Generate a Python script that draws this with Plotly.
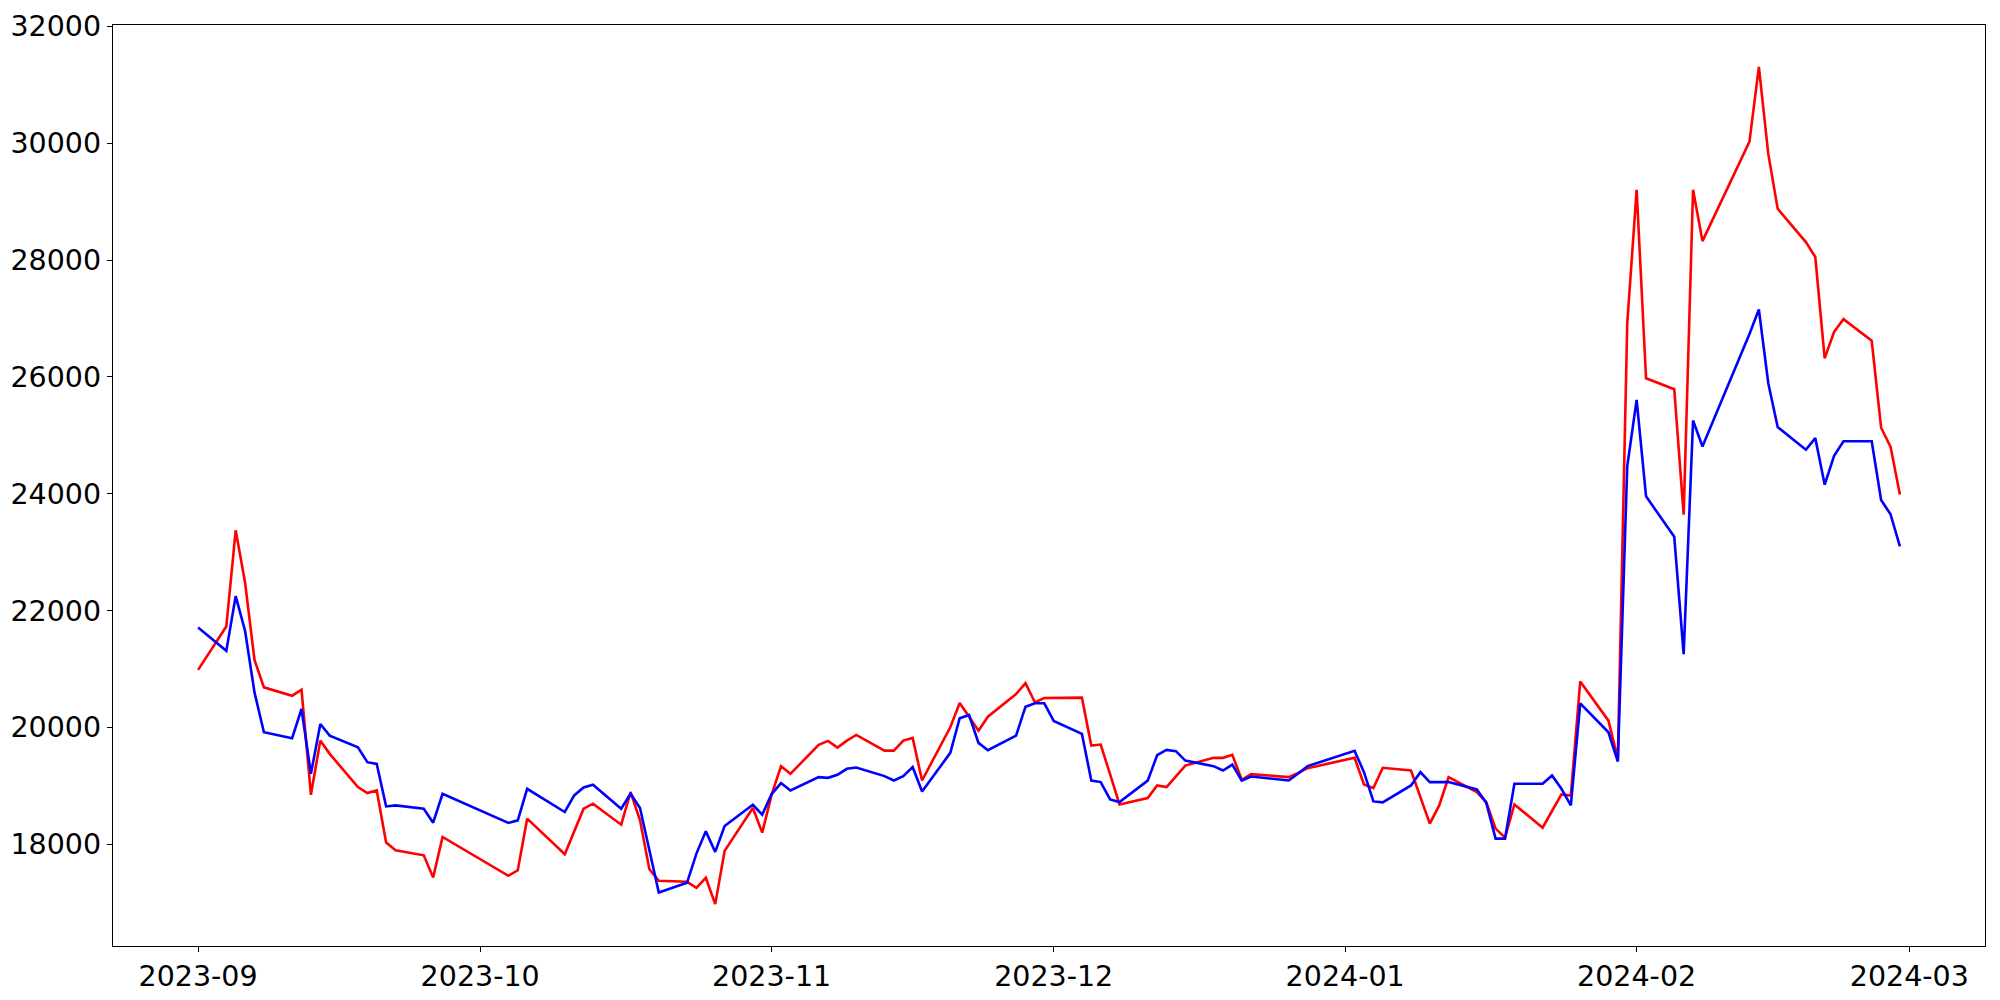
import pandas as pd
import plotly.graph_objects as go

dates = [
    "2023-09-01", "2023-09-04", "2023-09-05", "2023-09-06", "2023-09-07", "2023-09-08",
    "2023-09-11", "2023-09-12", "2023-09-13", "2023-09-14", "2023-09-15",
    "2023-09-18", "2023-09-19", "2023-09-20", "2023-09-21", "2023-09-22",
    "2023-09-25", "2023-09-26", "2023-09-27",
    "2023-10-04", "2023-10-05", "2023-10-06",
    "2023-10-10", "2023-10-11", "2023-10-12", "2023-10-13",
    "2023-10-16", "2023-10-17", "2023-10-18", "2023-10-19", "2023-10-20",
    "2023-10-23", "2023-10-24", "2023-10-25", "2023-10-26", "2023-10-27",
    "2023-10-30", "2023-10-31",
    "2023-11-01", "2023-11-02", "2023-11-03",
    "2023-11-06", "2023-11-07", "2023-11-08", "2023-11-09", "2023-11-10",
    "2023-11-13", "2023-11-14", "2023-11-15", "2023-11-16", "2023-11-17",
    "2023-11-20", "2023-11-21", "2023-11-22", "2023-11-23", "2023-11-24",
    "2023-11-27", "2023-11-28", "2023-11-29", "2023-11-30",
    "2023-12-01",
    "2023-12-04", "2023-12-05", "2023-12-06", "2023-12-07", "2023-12-08",
    "2023-12-11", "2023-12-12", "2023-12-13", "2023-12-14", "2023-12-15",
    "2023-12-18", "2023-12-19", "2023-12-20", "2023-12-21", "2023-12-22",
    "2023-12-26", "2023-12-27", "2023-12-28",
    "2024-01-02", "2024-01-03", "2024-01-04", "2024-01-05",
    "2024-01-08", "2024-01-09", "2024-01-10", "2024-01-11", "2024-01-12",
    "2024-01-15", "2024-01-16", "2024-01-17", "2024-01-18", "2024-01-19",
    "2024-01-22", "2024-01-23", "2024-01-24", "2024-01-25", "2024-01-26",
    "2024-01-29", "2024-01-30", "2024-01-31",
    "2024-02-01", "2024-02-02",
    "2024-02-05", "2024-02-06", "2024-02-07", "2024-02-08",
    "2024-02-13", "2024-02-14", "2024-02-15", "2024-02-16",
    "2024-02-19", "2024-02-20", "2024-02-21", "2024-02-22", "2024-02-23",
    "2024-02-26", "2024-02-27", "2024-02-28", "2024-02-29",
]

red_values = [
    # Sep
    20986, 21727, 23375, 22478, 21157, 20686, 20543, 20645, 18848, 19775, 19548,
    18980, 18877, 18922, 18029, 17898, 17812, 17432, 18126,
    # Oct
    17461, 17556, 18439, 17829, 18222, 18609, 18695, 18336, 18894, 18410, 17573,
    17375, 17358, 17256, 17427, 16976, 17887, 18621, 18200,
    # Nov
    18850, 19338, 19206, 19701, 19770, 19655, 19775, 19872, 19604, 19604, 19775,
    19821, 19092, 20003, 20418, 20184, 19945, 20184, 20572, 20759, 20430, 20503,
    # Dec
    20503, 20510, 19689, 19707, 19195, 18683, 18792, 19007, 18980, 19167, 19348,
    19480, 19480, 19531, 19104, 19201, 19150, 19220, 19304,
    # Jan
    19480, 19024, 18962, 19309, 19263, 18809, 18353, 18666, 19150, 18894, 18724,
    18268, 18114, 18683, 18285, 18570, 18853, 18836, 20788, 20116, 19462, 26915,
    # Feb
    29201, 25976, 25789, 23643, 29201, 28324, 30026, 31306, 29816, 28877, 28307,
    28051, 26317, 26771, 26988, 26618, 25130, 24807, 23985,
]

blue_values = [
    # Sep
    21710, 21311, 22249, 21652, 20600, 19918, 19815, 20316, 19206, 20060, 19860,
    19662, 19406, 19377, 18648, 18666, 18609, 18370, 18865,
    # Oct
    18365, 18410, 18950, 18553, 18836, 18973, 19019, 18609, 18865, 18621, 17898,
    17176, 17341, 17841, 18222, 17870, 18314, 18677, 18507,
    # Nov
    18860, 19048, 18922, 19150, 19138, 19189, 19292, 19314, 19167, 19092, 19167,
    19321, 18904, 19565, 20157, 20213, 19736, 19611, 19860, 20355, 20413, 20413,
    # Dec
    20111, 19889, 19092, 19065, 18768, 18724, 19090, 19525, 19616, 19594, 19433,
    19338, 19263, 19365, 19092, 19160, 19092, 19212, 19338,
    # Jan
    19599, 19235, 18734, 18717, 19007, 19235, 19065, 19065, 19065, 18939, 18712,
    18097, 18097, 19036, 19036, 19177, 18950, 18666, 20413, 19918, 19416, 24468,
    # Feb
    25606, 23956, 23263, 21254, 25253, 24809, 26735, 27154, 25891, 25140, 24753,
    24952, 24155, 24650, 24899, 24899, 23893, 23650, 23101,
]

y_ticks = [18000, 20000, 22000, 24000, 26000, 28000, 30000, 32000]

x = pd.to_datetime(dates)

# matplotlib-style 5% margins
span = x.max() - x.min()
x_range = [x.min() - span * 0.05, x.max() + span * 0.05]
all_vals = red_values + blue_values
vmin, vmax = min(all_vals), max(all_vals)
vspan = vmax - vmin
y_range = [vmin - vspan * 0.05, vmax + vspan * 0.05]

fig = go.Figure()
fig.add_trace(go.Scatter(x=x, y=red_values, mode="lines",
                         line=dict(color="#ff0000", width=2.6), showlegend=False))
fig.add_trace(go.Scatter(x=x, y=blue_values, mode="lines",
                         line=dict(color="#0000ff", width=2.6), showlegend=False))

axis_common = dict(
    showline=True, linecolor="black", linewidth=1.3, mirror=True,
    ticks="outside", ticklen=5, tickwidth=1.3, tickcolor="black",
    showgrid=False, zeroline=False, automargin=False,
    ticklabelstandoff=0,
    tickfont=dict(family="DejaVu Sans", size=28.5, color="black"),
)

# the page body adds an 8px offset; size the figure so the axes land where
# they are in the reference
fig.update_layout(
    width=1992, height=992,
    margin=dict(l=105, r=15, t=17, b=54),
    paper_bgcolor="white", plot_bgcolor="white",
    font=dict(family="DejaVu Sans", color="black"),
    xaxis=dict(range=[x_range[0].isoformat(), x_range[1].isoformat()],
               tickformat="%Y-%m", dtick="M1", tick0="2023-09-01",
               **axis_common),
    yaxis=dict(range=y_range, tickvals=y_ticks,
               ticktext=[str(t) for t in y_ticks], **axis_common),
)

fig.write_html("out.html")
